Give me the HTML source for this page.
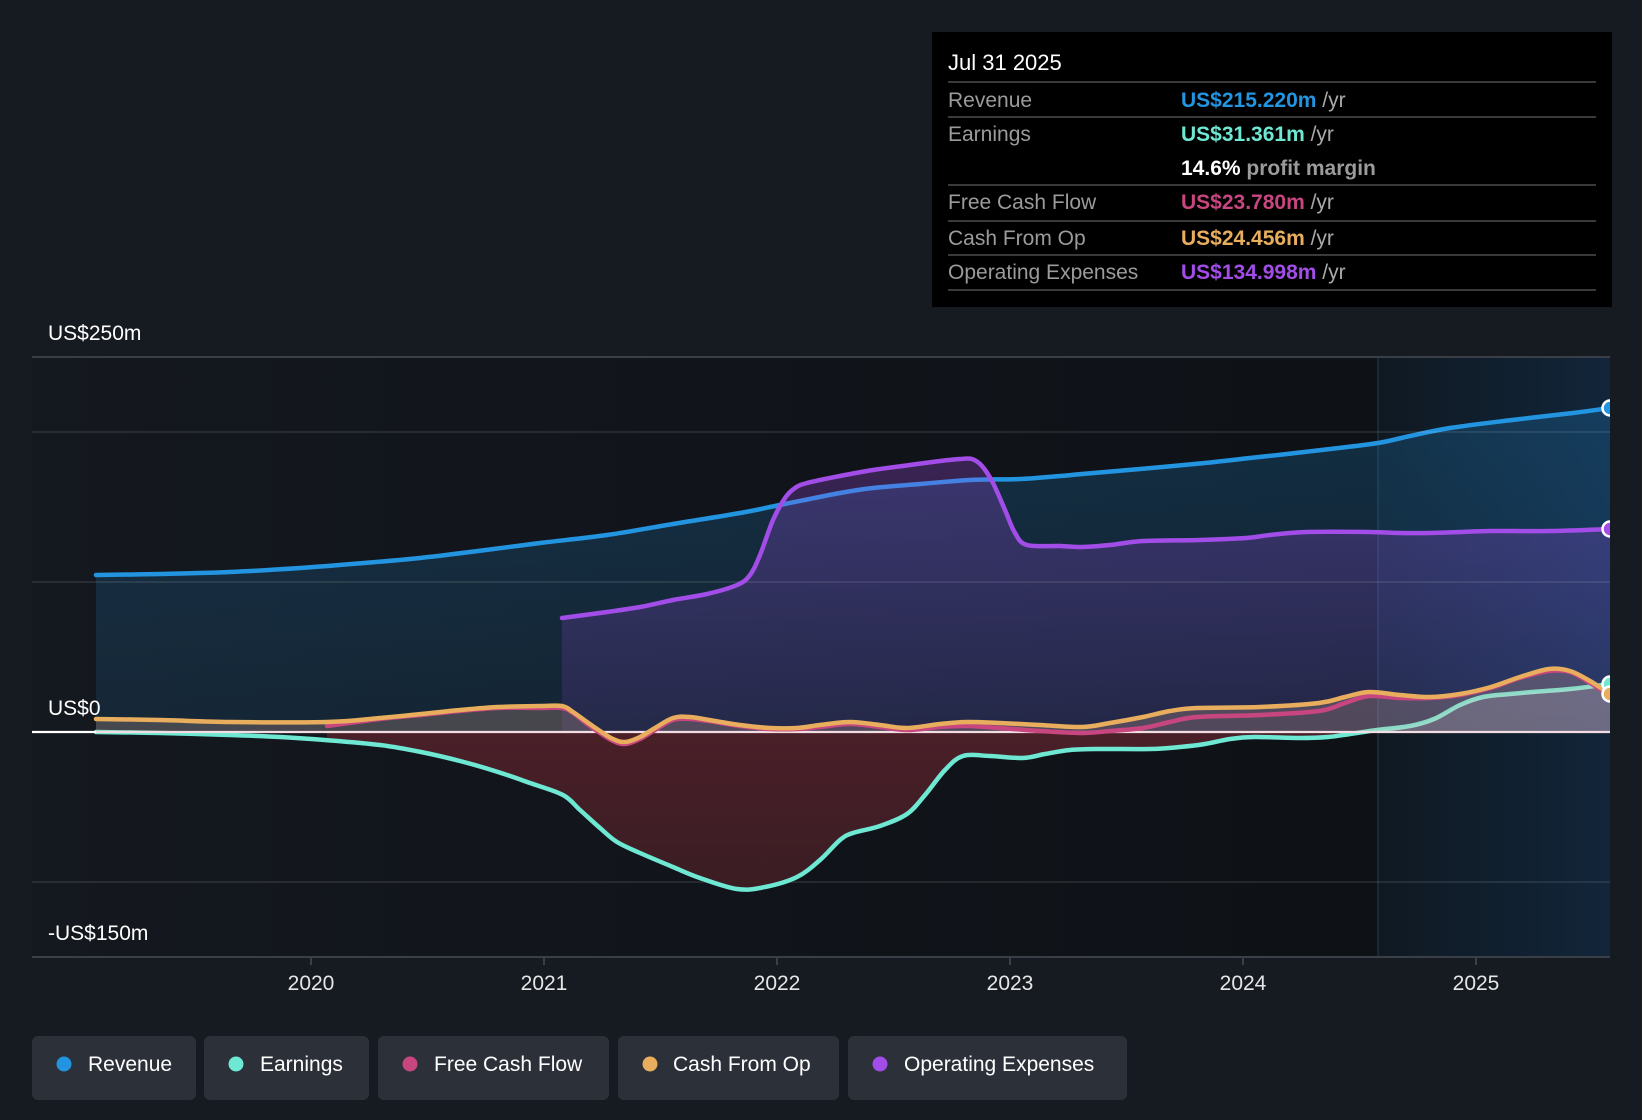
<!DOCTYPE html>
<html><head><meta charset="utf-8"><style>
html,body{margin:0;padding:0;background:#161b22;}
svg{display:block;font-family:"Liberation Sans",Arial,sans-serif;}
</style></head><body>
<svg id="chart" width="1642" height="1120" viewBox="0 0 1642 1120" xmlns="http://www.w3.org/2000/svg">
<defs>
<linearGradient id="plotbg" x1="0" y1="0" x2="1" y2="0">
<stop offset="0" stop-color="#14181f"/><stop offset="1" stop-color="#0e1116"/>
</linearGradient>
<linearGradient id="fcbg" x1="0" y1="0" x2="1" y2="0">
<stop offset="0" stop-color="#0f1922"/><stop offset="1" stop-color="#12253a"/>
</linearGradient>
<linearGradient id="revfill" x1="0" y1="0" x2="0" y2="1">
<stop offset="0" stop-color="#2394e0" stop-opacity="0.22"/><stop offset="1" stop-color="#2394e0" stop-opacity="0.12"/>
</linearGradient>
<linearGradient id="opfill" x1="0" y1="0" x2="0" y2="1">
<stop offset="0" stop-color="#a34de8" stop-opacity="0.28"/><stop offset="1" stop-color="#a34de8" stop-opacity="0.12"/>
</linearGradient>
<linearGradient id="redfill" x1="0" y1="0" x2="0" y2="1">
<stop offset="0" stop-color="#4a1f28"/><stop offset="1" stop-color="#3a1d23"/>
</linearGradient>
<clipPath id="plotclip"><rect x="32" y="340" width="1578" height="620"/></clipPath>
</defs>

<rect x="32" y="357" width="1346" height="600" fill="url(#plotbg)"/>
<rect x="1378" y="357" width="232" height="600" fill="url(#fcbg)"/>
<line x1="1378" y1="357" x2="1378" y2="957" stroke="#1e2e3f" stroke-width="1.5"/>

<g clip-path="url(#plotclip)">
<polygon class="s2" fill="url(#revfill)" points="96,575 160,574 230,572 300,568 364,563 420,558 478,551 540,543 607,535 673,524 740,513 780,505 840,493 873,488 920,484 970,480 1020,479 1060,476 1082,474 1140,469 1205,463 1250,458 1287,454 1330,449 1378,443 1410,436 1450,428 1512,420 1573,413 1610,408 1610,732 96,732"/>
<polyline class="s" fill="none" stroke="#2394e0" stroke-width="4.5" stroke-linejoin="round" stroke-linecap="round" points="96,575 160,574 230,572 300,568 364,563 420,558 478,551 540,543 607,535 673,524 740,513 780,505 840,493 873,488 920,484 970,480 1020,479 1060,476 1082,474 1140,469 1205,463 1250,458 1287,454 1330,449 1378,443 1410,436 1450,428 1512,420 1573,413 1610,408"/>

<polygon class="s2" fill="url(#opfill)" points="562,618 607,612 640,607 673,600 707,594 737,585 750,575 760,555 773,520 785,498 795,488 807,483 840,476 873,470 910,465 940,461 960,459 972,459 982,466 993,483 1005,510 1015,533 1027,545 1060,546 1082,547 1110,545 1143,541 1200,540 1246,538 1270,535 1307,532 1369,532 1400,533 1430,533 1460,532 1491,531 1550,531 1610,529 1610,732 562,732"/>

<line x1="32" y1="432" x2="1610" y2="432" stroke="#ffffff" stroke-opacity="0.09" stroke-width="2"/>
<line x1="32" y1="582" x2="1610" y2="582" stroke="#ffffff" stroke-opacity="0.09" stroke-width="2"/>
<line x1="32" y1="882" x2="1610" y2="882" stroke="#ffffff" stroke-opacity="0.09" stroke-width="2"/>

<polyline class="s" fill="none" stroke="#a34de8" stroke-width="4.5" stroke-linejoin="round" stroke-linecap="round" points="562,618 607,612 640,607 673,600 707,594 737,585 750,575 760,555 773,520 785,498 795,488 807,483 840,476 873,470 910,465 940,461 960,459 972,459 982,466 993,483 1005,510 1015,533 1027,545 1060,546 1082,547 1110,545 1143,541 1200,540 1246,538 1270,535 1307,532 1369,532 1400,533 1430,533 1460,532 1491,531 1550,531 1610,529"/>

<polygon class="s2" fill="url(#redfill)" points="327,740 380,745 421,752 460,761 498,772 530,783 563,795 580,810 600,828 617,842 640,853 673,867 700,878 737,889 765,887 797,877 820,860 840,840 853,833 880,826 907,814 925,795 945,770 963,756 990,756 1023,758 1045,754 1070,750 1100,749 1150,749 1180,747 1205,744 1230,739 1254,737 1300,738 1328,737 1350,734 1370,732 327,732"/>

<polyline class="s" fill="none" stroke="#6ee7d3" stroke-width="4.5" stroke-linejoin="round" stroke-linecap="round" points="96,732 160,733 230,735 280,737 325,740 380,745 421,752 460,761 498,772 530,783 563,795 580,810 600,828 617,842 640,853 673,867 700,878 737,889 765,887 797,877 820,860 840,840 853,833 880,826 907,814 925,795 945,770 963,756 990,756 1023,758 1045,754 1070,750 1100,749 1150,749 1180,747 1205,744 1230,739 1254,737 1300,738 1328,737 1350,734 1377,730 1410,726 1434,719 1460,705 1483,697 1510,694 1532,692 1570,689 1610,684"/>

<polygon class="s2" fill="#dce6f5" fill-opacity="0.18" points="1377,730 1410,726 1434,719 1460,705 1483,697 1510,694 1532,692 1570,689 1610,684 1610,732 1377,732"/>

<polygon class="s2" fill="#e6b4a0" fill-opacity="0.24" points="96,719 160,720 230,722 327,722 380,718 421,714 460,710 498,707 540,706 562,706 573,712 587,722 600,731 613,732 640,732 655,728 673,718 690,717 715,721 740,725 770,728 797,728 820,725 850,722 880,725 907,728 940,724 967,722 1000,723 1040,725 1082,727 1110,723 1143,717 1170,711 1197,708 1260,707 1319,703 1345,697 1369,692 1400,695 1430,697 1460,694 1491,687 1520,677 1549,669 1570,671 1590,681 1610,694 1610,732 96,732"/>

<line x1="96" y1="732" x2="1610" y2="732" stroke="#f2dde2" stroke-width="2.2"/>

<polyline class="s" fill="none" stroke="#c8467f" stroke-width="4.5" stroke-linejoin="round" stroke-linecap="round" points="327,726 380,719 421,715 460,711 498,708 540,708 562,708 573,713 587,724 600,733 613,741 625,744 640,739 655,730 673,720 690,719 715,722 740,726 770,729 797,729 820,727 850,724 880,727 907,730 940,727 967,726 1000,728 1040,731 1082,733 1110,731 1143,728 1170,722 1197,717 1260,715 1319,711 1345,703 1369,696 1400,698 1430,698 1460,695 1491,688 1520,678 1549,671 1570,672 1590,683 1610,696"/>
<polyline class="s" fill="none" stroke="#e8ae5e" stroke-width="4.5" stroke-linejoin="round" stroke-linecap="round" points="96,719 160,720 230,722 327,722 380,718 421,714 460,710 498,707 540,706 562,706 573,712 587,722 600,731 613,739 625,742 640,737 655,728 673,718 690,717 715,721 740,725 770,728 797,728 820,725 850,722 880,725 907,728 940,724 967,722 1000,723 1040,725 1082,727 1110,723 1143,717 1170,711 1197,708 1260,707 1319,703 1345,697 1369,692 1400,695 1430,697 1460,694 1491,687 1520,677 1549,669 1570,671 1590,681 1610,694"/>

<circle cx="1610" cy="408" r="7.5" fill="#2394e0" stroke="#fff" stroke-width="2.5"/>
<circle cx="1610" cy="529" r="7.5" fill="#a34de8" stroke="#fff" stroke-width="2.5"/>
<circle cx="1610" cy="684" r="7.5" fill="#6ee7d3" stroke="#fff" stroke-width="2.5"/>
<circle cx="1610" cy="694" r="7.5" fill="#e8ae5e" stroke="#fff" stroke-width="2.5"/>
</g>

<line x1="32" y1="732" x2="96" y2="732" stroke="#ffffff" stroke-width="2.2"/>
<line x1="32" y1="357" x2="1610" y2="357" stroke="#3a3f47" stroke-width="2"/>
<line x1="32" y1="957" x2="1610" y2="957" stroke="#3a3f47" stroke-width="2"/>
<g stroke="#3a3f47" stroke-width="2">
<line x1="311" y1="957" x2="311" y2="965"/>
<line x1="544" y1="957" x2="544" y2="965"/>
<line x1="777" y1="957" x2="777" y2="965"/>
<line x1="1010" y1="957" x2="1010" y2="965"/>
<line x1="1243" y1="957" x2="1243" y2="965"/>
<line x1="1476" y1="957" x2="1476" y2="965"/>
</g>

<g fill="#ffffff" font-size="21">
<text x="48" y="340">US$250m</text>
<text x="48" y="715">US$0</text>
<text x="48" y="940">-US$150m</text>
</g>
<g fill="#e6e6e6" font-size="21" text-anchor="middle">
<text x="311" y="990">2020</text>
<text x="544" y="990">2021</text>
<text x="777" y="990">2022</text>
<text x="1010" y="990">2023</text>
<text x="1243" y="990">2024</text>
<text x="1476" y="990">2025</text>
</g>

<rect x="932" y="32" width="680" height="275" fill="#000"/>
<text x="948" y="70" fill="#fff" font-size="22">Jul 31 2025</text>
<g fill="#3a3a3a">
<rect x="948" y="81" width="648" height="2"/>
<rect x="948" y="116" width="648" height="2"/>
<rect x="948" y="184" width="648" height="2"/>
<rect x="948" y="220" width="648" height="2"/>
<rect x="948" y="254" width="648" height="2"/>
<rect x="948" y="289" width="648" height="2"/>
</g>
<g font-size="21" fill="#9b9b9b">
<text x="948" y="107">Revenue</text>
<text x="948" y="141">Earnings</text>
<text x="948" y="209">Free Cash Flow</text>
<text x="948" y="245">Cash From Op</text>
<text x="948" y="279">Operating Expenses</text>
</g>
<g font-size="21">
<text x="1181" y="107"><tspan fill="#2394e0" font-weight="bold">US$215.220m</tspan><tspan fill="#aaaaaa"> /yr</tspan></text>
<text x="1181" y="141"><tspan fill="#6ee7d3" font-weight="bold">US$31.361m</tspan><tspan fill="#aaaaaa"> /yr</tspan></text>
<text x="1181" y="175"><tspan fill="#ffffff" font-weight="bold">14.6%</tspan><tspan fill="#9b9b9b" font-weight="bold"> profit margin</tspan></text>
<text x="1181" y="209"><tspan fill="#c8467f" font-weight="bold">US$23.780m</tspan><tspan fill="#aaaaaa"> /yr</tspan></text>
<text x="1181" y="245"><tspan fill="#e8ae5e" font-weight="bold">US$24.456m</tspan><tspan fill="#aaaaaa"> /yr</tspan></text>
<text x="1181" y="279"><tspan fill="#a34de8" font-weight="bold">US$134.998m</tspan><tspan fill="#aaaaaa"> /yr</tspan></text>
</g>

<g>
<rect x="32" y="1036" width="164" height="64" rx="6" fill="#2c3039"/>
<circle cx="64" cy="1064" r="7.5" fill="#2394e0"/>
<text x="88" y="1071" fill="#fff" font-size="21">Revenue</text>

<rect x="204" y="1036" width="165" height="64" rx="6" fill="#2c3039"/>
<circle cx="236" cy="1064" r="7.5" fill="#6ee7d3"/>
<text x="260" y="1071" fill="#fff" font-size="21">Earnings</text>

<rect x="378" y="1036" width="231" height="64" rx="6" fill="#2c3039"/>
<circle cx="410" cy="1064" r="7.5" fill="#c8467f"/>
<text x="434" y="1071" fill="#fff" font-size="21">Free Cash Flow</text>

<rect x="618" y="1036" width="221" height="64" rx="6" fill="#2c3039"/>
<circle cx="650" cy="1064" r="7.5" fill="#e8ae5e"/>
<text x="673" y="1071" fill="#fff" font-size="21">Cash From Op</text>

<rect x="848" y="1036" width="279" height="64" rx="6" fill="#2c3039"/>
<circle cx="880" cy="1064" r="7.5" fill="#a34de8"/>
<text x="904" y="1071" fill="#fff" font-size="21">Operating Expenses</text>
</g>
</svg>
<script>
(function(){
  var NS="http://www.w3.org/2000/svg";
  function parse(s){return s.trim().split(/\s+/).map(function(p){var a=p.split(",");return [+a[0],+a[1]];});}
  function curve(pts){
    var d="M"+pts[0][0]+","+pts[0][1];
    for(var i=0;i<pts.length-1;i++){
      var p0=pts[i>0?i-1:i],p1=pts[i],p2=pts[i+1],p3=pts[i+2<pts.length?i+2:i+1];
      var c1x=p1[0]+(p2[0]-p0[0])/6,c1y=p1[1]+(p2[1]-p0[1])/6;
      var c2x=p2[0]-(p3[0]-p1[0])/6,c2y=p2[1]-(p3[1]-p1[1])/6;
      d+=" C"+c1x.toFixed(2)+","+c1y.toFixed(2)+" "+c2x.toFixed(2)+","+c2y.toFixed(2)+" "+p2[0]+","+p2[1];
    }
    return d;
  }
  function replace(el,d){
    var p=document.createElementNS(NS,"path");
    for(var i=0;i<el.attributes.length;i++){var a=el.attributes[i];if(a.name!=="points"&&a.name!=="class")p.setAttribute(a.name,a.value);}
    p.setAttribute("d",d);
    el.parentNode.replaceChild(p,el);
  }
  try{
    var ls=document.querySelectorAll("polyline.s");
    for(var i=0;i<ls.length;i++){replace(ls[i],curve(parse(ls[i].getAttribute("points"))));}
    var gs=document.querySelectorAll("polygon.s2");
    for(var j=0;j<gs.length;j++){
      var pts=parse(gs[j].getAttribute("points"));
      var base=pts.slice(pts.length-2),c=pts.slice(0,pts.length-2);
      var d=curve(c)+" L"+base[0][0]+","+base[0][1]+" L"+base[1][0]+","+base[1][1]+" Z";
      replace(gs[j],d);
    }
  }catch(e){}
})();
</script>
</body></html>
